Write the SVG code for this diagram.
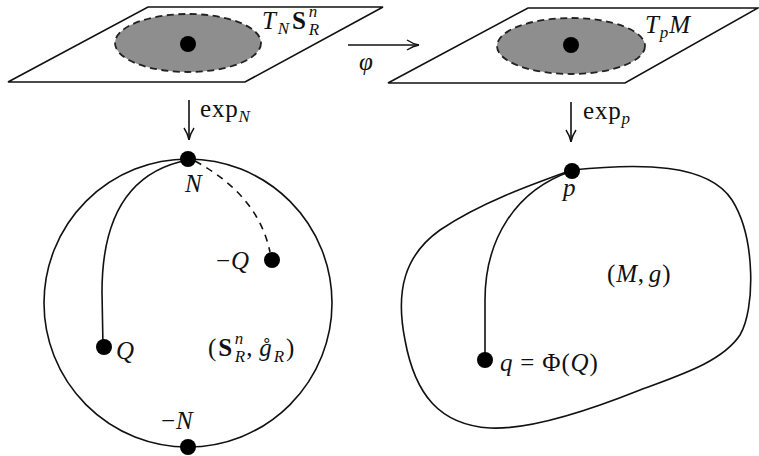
<svg xmlns="http://www.w3.org/2000/svg" width="759" height="456" viewBox="0 0 759 456">
<style>
.ln{fill:none;stroke:#111;stroke-width:1.6}
.dash{fill:none;stroke:#111;stroke-width:1.6;stroke-dasharray:7 6}
.pl{fill:#fff;stroke:#111;stroke-width:1.6;stroke-linejoin:miter}
.disk{fill:#8e8e8e;stroke:#222;stroke-width:1.8;stroke-dasharray:7 4.5}
.dot{fill:#000}
text{font-family:"Liberation Serif","DejaVu Serif",serif;font-size:25px;letter-spacing:0.8px;fill:#111}
.i{font-style:italic}
.b{font-weight:bold}
.s{font-size:17px;letter-spacing:0}
</style>
<defs>
<marker id="ah" viewBox="0 0 14 12" refX="13" refY="6" markerWidth="14" markerHeight="12" markerUnits="userSpaceOnUse" orient="auto">
<path d="M1,1 Q7,5 13,6 Q7,7 1,11" fill="none" stroke="#111" stroke-width="1.4"/>
</marker>
</defs>

<g id="tangent-left">
<polygon class="pl" points="148,7 383,7 245,82 8,82"/>
<ellipse class="disk" cx="188" cy="43" rx="73" ry="29"/>
<circle class="dot" cx="188" cy="44" r="8"/>
<text x="262" y="29"><tspan class="i">T</tspan><tspan class="i s" dx="1" dy="5">N</tspan><tspan class="b" dx="3" dy="-5">S</tspan><tspan class="i s" dx="2" dy="-12">n</tspan><tspan class="i s" dx="-8.5" dy="18">R</tspan></text>
</g>

<g id="tangent-right">
<polygon class="pl" points="528,8 758,8 625,83 388,83"/>
<ellipse class="disk" cx="571" cy="46" rx="74" ry="28"/>
<circle class="dot" cx="571" cy="45" r="8"/>
<text x="645" y="33"><tspan class="i">T</tspan><tspan class="i s" dy="5">p</tspan><tspan class="i" dx="1" dy="-5">M</tspan></text>
</g>

<g id="sphere">
<circle class="ln" cx="188" cy="303" r="144"/>
<path class="ln" d="M188,160 C125,172 102,222 102,292 L103,347"/>
<path class="dash" d="M195,161 Q258,195 270,252"/>
<circle class="dot" cx="188" cy="159" r="8"/>
<circle class="dot" cx="272" cy="260" r="8"/>
<circle class="dot" cx="104" cy="347" r="8"/>
<circle class="dot" cx="188" cy="447" r="8"/>
<text class="i" x="185" y="192">N</text>
<text x="216" y="269">−<tspan class="i">Q</tspan></text>
<text class="i" x="116" y="359">Q</text>
<text x="161" y="429">−<tspan class="i">N</tspan></text>
<text x="208" y="356">(<tspan class="b" dx="1">S</tspan><tspan class="i s" dx="2" dy="-12">n</tspan><tspan class="i s" dx="-8.5" dy="18">R</tspan><tspan dx="1" dy="-6">,</tspan><tspan class="i" dx="6">g̊</tspan><tspan class="i s" dx="1" dy="6">R</tspan><tspan dx="2" dy="-6">)</tspan></text>
</g>

<g id="manifold">
<path class="ln" d="M572,170 C640,163 708,163 732,200 C756,238 755,310 740,335 C722,362 680,375 640,390 C590,410 530,430 490,428 C440,425 415,395 405,340 C395,290 405,255 440,230 C480,203 530,185 572,170 Z"/>
<path class="ln" d="M572,171 C515,190 485,240 485,300 L485,358"/>
<circle class="dot" cx="572" cy="171" r="8"/>
<circle class="dot" cx="485" cy="360" r="8"/>
<text class="i" x="563" y="196">p</text>
<text x="607" y="282">(<tspan class="i">M</tspan>,<tspan class="i" dx="4">g</tspan>)</text>
<text x="500" y="371"><tspan class="i">q</tspan> = Φ(<tspan class="i">Q</tspan>)</text>
</g>

<g id="connectors">
<path class="ln" d="M348,45 L419,45" marker-end="url(#ah)"/>
<text class="i" x="359" y="70">φ</text>
<path class="ln" d="M189,100 L189,140" marker-end="url(#ah)"/>
<text x="200" y="117">exp<tspan class="i s" dy="5">N</tspan></text>
<path class="ln" d="M571,102 L571,142" marker-end="url(#ah)"/>
<text x="583" y="119">exp<tspan class="i s" dy="5">p</tspan></text>
</g>
</svg>
